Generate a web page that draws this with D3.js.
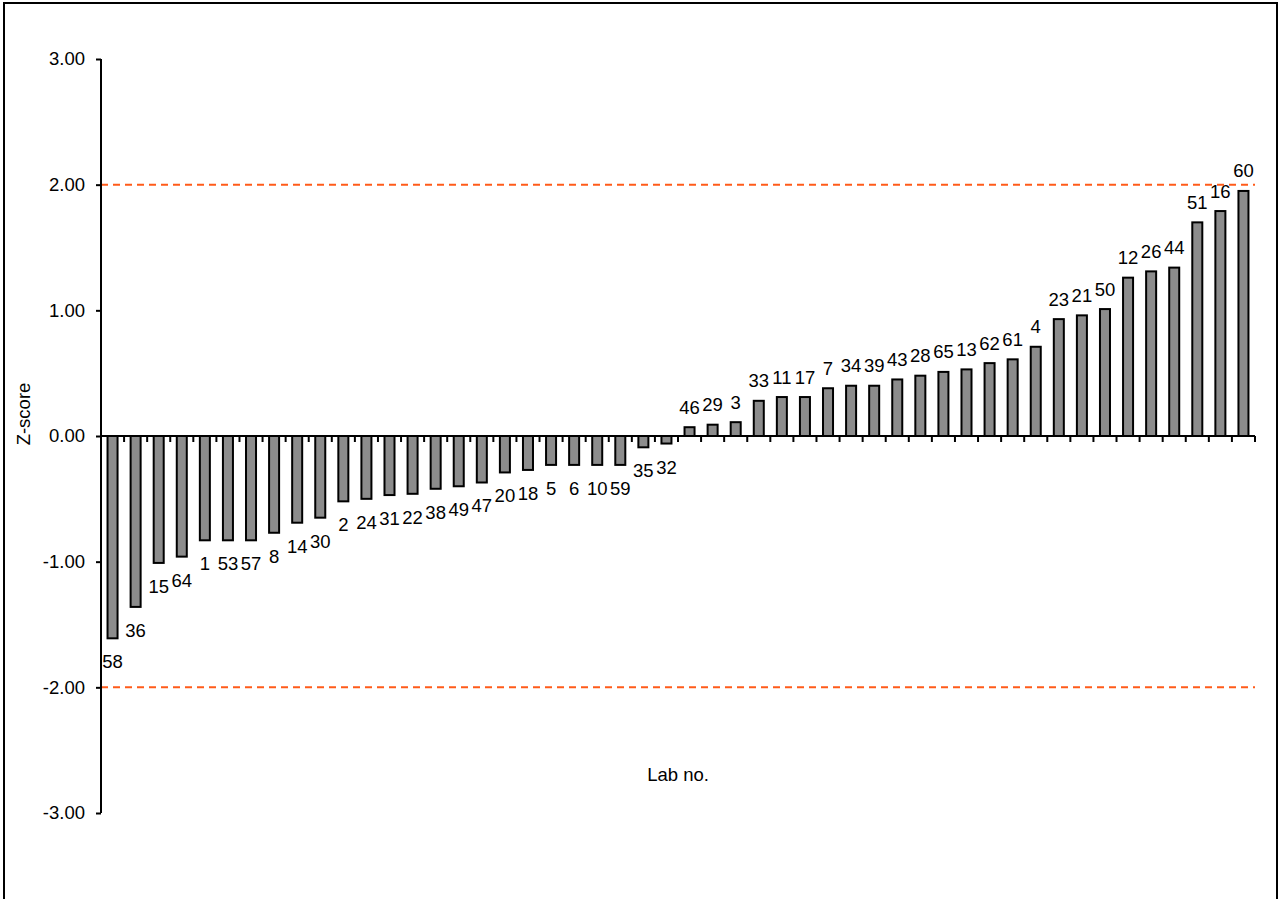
<!DOCTYPE html>
<html lang="en">
  <head>
    <meta charset="UTF-8" />
    <title>Z-scores by lab</title>
    <script src="https://d3js.org/d3.v7.min.js"></script>
    <style>
      html,
      body {
        margin: 0;
        padding: 0;
        background-color: white;
        font-family: Arial, "Liberation Sans", sans-serif;
      }
      .bar {
        fill: #8c8c8c;
        stroke: black;
        stroke-width: 2px;
      }
      .axis path,
      .axis line {
        stroke: black;
        stroke-width: 2px;
      }
      text {
        font-size: 18.5px;
        fill: black;
      }
    </style>
  </head>
  <body>
    <svg id="chart"></svg>
    <script>
      // lab numbers, sorted by z-score
      const labs = [
        "58", "36", "15", "64", "1", "53", "57", "8", "14", "30",
        "2", "24", "31", "22", "38", "49", "47", "20", "18", "5",
        "6", "10", "59", "35", "32", "46", "29", "3", "33", "11",
        "17", "7", "34", "39", "43", "28", "65", "13", "62", "61",
        "4", "23", "21", "50", "12", "26", "44", "51", "16", "60"
      ];
      const zScores = [
        -1.61, -1.36, -1.01, -0.96, -0.83, -0.83, -0.83, -0.77, -0.69, -0.65,
        -0.52, -0.5, -0.47, -0.46, -0.42, -0.4, -0.37, -0.29, -0.27, -0.23,
        -0.23, -0.23, -0.23, -0.09, -0.06, 0.07, 0.09, 0.11, 0.28, 0.31,
        0.31, 0.38, 0.4, 0.4, 0.45, 0.48, 0.51, 0.53, 0.58, 0.61,
        0.71, 0.93, 0.96, 1.01, 1.26, 1.31, 1.34, 1.7, 1.79, 1.95
      ];
      const yTicks = [-3, -2, -1, 0, 1, 2, 3];
      const limits = [2, -2];

      const W = 1279;
      const H = 899;
      const margin = { top: 59, right: 24, bottom: 86, left: 101 };
      const width = W - margin.left - margin.right;
      const height = H - margin.top - margin.bottom;

      const data = labs.map((lab, i) => ({ lab, z: zScores[i] }));

      const svg = d3.select("#chart").attr("width", W).attr("height", H);

      // outer chart frame (bottom edge runs off the picture)
      svg
        .append("rect")
        .attr("x", 4)
        .attr("y", 3)
        .attr("width", 1273)
        .attr("height", 920)
        .attr("fill", "none")
        .attr("stroke", "black")
        .attr("stroke-width", 2);

      const g = svg
        .append("g")
        .attr("transform", `translate(${margin.left},${margin.top})`);

      const x = d3
        .scaleBand()
        .domain(labs)
        .range([0, width])
        .paddingInner(0.566)
        .paddingOuter(0.283);

      const y = d3.scaleLinear().domain([-3, 3]).range([height, 0]);

      // +/- 2 limit lines
      g.selectAll(".limit")
        .data(limits)
        .enter()
        .append("line")
        .attr("class", "limit")
        .attr("x1", 0)
        .attr("x2", width)
        .attr("y1", (d) => y(d))
        .attr("y2", (d) => y(d))
        .attr("stroke", "#ff5b1a")
        .attr("stroke-width", 2)
        .attr("stroke-dasharray", "7,5");

      // y axis
      const yAxis = g
        .append("g")
        .attr("class", "axis")
        .call(
          d3
            .axisLeft(y)
            .tickValues(yTicks)
            .tickSize(5)
            .tickPadding(11)
            .tickFormat((d) => d.toFixed(2))
        );
      yAxis.select(".domain").attr("d", `M0,${y(3)}V${y(-3)}`);
      yAxis.attr("font-family", null).attr("font-size", null);

      // bars
      g.selectAll(".bar")
        .data(data)
        .enter()
        .append("rect")
        .attr("class", "bar")
        .attr("x", (d) => x(d.lab))
        .attr("width", x.bandwidth())
        .attr("y", (d) => y(Math.max(0, d.z)))
        .attr("height", (d) => Math.abs(y(d.z) - y(0)));

      // category axis at zero with ticks between categories
      const step = x.step();
      const bounds = labs.map((l) => x(l) + x.bandwidth() / 2 - step / 2);
      bounds.push(width);
      const xAxis = g.append("g").attr("class", "axis");
      xAxis
        .append("line")
        .attr("x1", 0)
        .attr("x2", width)
        .attr("y1", y(0))
        .attr("y2", y(0));
      xAxis
        .selectAll(".xtick")
        .data(bounds)
        .enter()
        .append("line")
        .attr("x1", (d) => d)
        .attr("x2", (d) => d)
        .attr("y1", y(0))
        .attr("y2", y(0) + 6);

      // data labels outside bar ends
      g.selectAll(".lbl")
        .data(data)
        .enter()
        .append("text")
        .attr("class", "lbl")
        .attr("text-anchor", "middle")
        .attr("x", (d) => x(d.lab) + x.bandwidth() / 2)
        .attr("y", (d) => (d.z < 0 ? y(d.z) + 30 : y(d.z) - 13.5))
        .text((d) => d.lab);

      // axis titles
      g.append("text")
        .attr("text-anchor", "middle")
        .attr("x", width / 2)
        .attr("y", 722)
        .text("Lab no.");

      g.append("text")
        .attr("text-anchor", "middle")
        .attr("transform", `translate(-71,${y(0) - 22}) rotate(-90)`)
        .text("Z-score");
    </script>
  </body>
</html>
